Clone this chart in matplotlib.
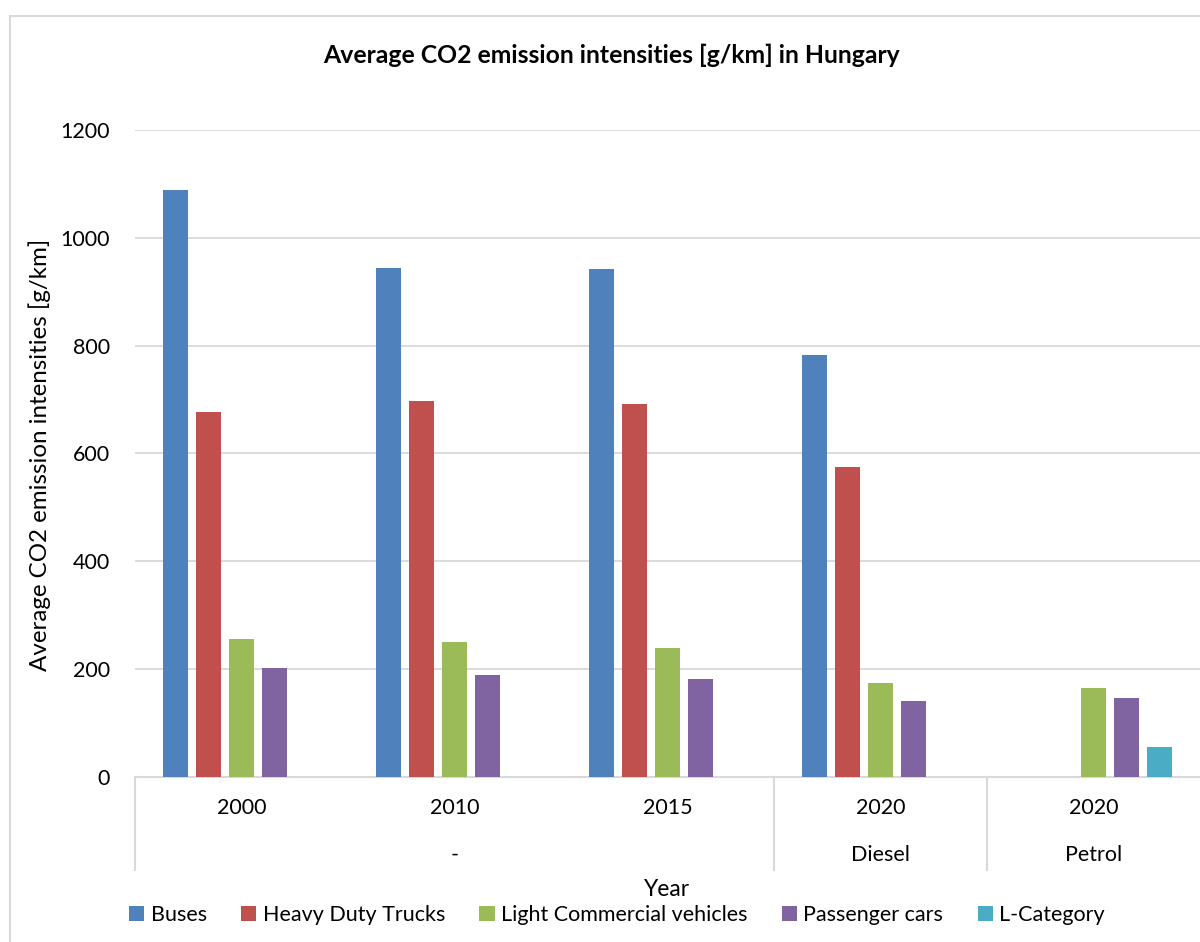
import numpy as np
import matplotlib.pyplot as plt
from matplotlib.patches import Rectangle
import matplotlib.transforms as mtransforms

plt.rcParams['font.family'] = ['Lato', 'DejaVu Sans']

years = ['2000', '2010', '2015', '2020', '2020']
fuels = ['-', 'Diesel', 'Petrol']
fuel_span = [(0, 2), (3, 3), (4, 4)]
series = ['Buses', 'Heavy Duty Trucks', 'Light Commercial vehicles', 'Passenger cars', 'L-Category']
buses = [1089, 944, 942, 783, np.nan]
trucks = [677, 698, 692, 575, np.nan]
lcv = [256, 250, 239, 174, 165]
cars = [202, 189, 182, 141, 147]
lcat = [np.nan, np.nan, np.nan, np.nan, 56]
colors = ['#4F81BD', '#C0504D', '#9BBB59', '#8064A2', '#4BACC6']

grey = '#d9d9d9'
fs = 15.5

fig = plt.figure(figsize=(12, 9.42), dpi=100)
ax = fig.add_axes([0.1125, 0.1752, 0.8875, 0.6868])

x = np.arange(len(years))
step = 0.155
for i, (name, vals) in enumerate(zip(series, [buses, trucks, lcv, cars, lcat])):
    ax.bar(x + (i - 2) * step, vals, width=0.12, color=colors[i], label=name, zorder=3)

ax.set_xlim(-0.5, len(years) - 0.5)
ax.set_ylim(0, 1200)
ax.set_yticks(range(0, 1201, 200))
ax.yaxis.grid(True, color=grey, lw=1.3, zorder=0)
ax.tick_params(axis='y', length=0, pad=18, labelsize=fs)
ax.set_xticks([])
for s in ['left', 'right', 'top']:
    ax.spines[s].set_visible(False)
ax.spines['bottom'].set_color(grey)
ax.spines['bottom'].set_linewidth(1.5)

# two level category axis
trans = mtransforms.blended_transform_factory(ax.transData, ax.transAxes)
for xi, yr in zip(x, years):
    ax.text(xi, -0.048, yr, transform=trans, ha='center', va='center', fontsize=fs)
for lab, (a, b) in zip(fuels, fuel_span):
    ax.text((a + b) / 2, -0.1206, lab, transform=trans, ha='center', va='center', fontsize=fs)
for xs in [-0.5, 2.5, 3.5]:
    ax.plot([xs, xs], [0, -0.144], transform=trans, color=grey, lw=1.5, clip_on=False)

fig.text(611 / 1200, 1 - 55 / 942, 'Average CO2 emission intensities [g/km] in Hungary',
         ha='center', va='center', fontsize=17.8, fontweight='bold')
fig.text(40 / 1200, 1 - 455 / 942, 'Average CO2 emission intensities [g/km]',
         ha='center', va='center', rotation=90, fontsize=17.4)
fig.text(667 / 1200, 1 - 890 / 942, 'Year', ha='center', va='center', fontsize=16.4)

fig.legend(loc='center', bbox_to_anchor=(617 / 1200, 1 - 915 / 942), ncol=5,
           frameon=False, fontsize=15.5, handlelength=0.7, handleheight=0.7,
           handletextpad=0.3, columnspacing=1.6)

fig.patches.append(Rectangle((10 / 1200, -0.1), 2, 1 - 16 / 942 + 0.1,
                             transform=fig.transFigure, fill=False,
                             edgecolor=grey, lw=1.5))

fig.savefig('out.png', dpi=100)
